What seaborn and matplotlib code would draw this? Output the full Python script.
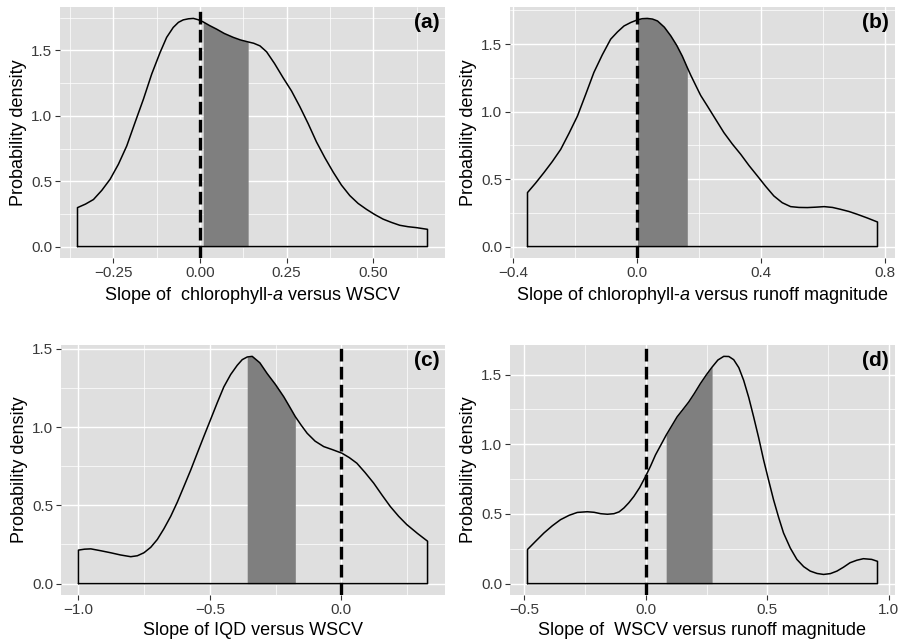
import numpy as np
import pandas as pd
import seaborn as sns
import matplotlib.pyplot as plt
from matplotlib.ticker import AutoMinorLocator

# density curves (x = slope, y = probability density)
a_x = [-0.353, -0.33, -0.307, -0.283, -0.259, -0.235, -0.211, -0.187, -0.163, -0.139, -0.115,
       -0.096, -0.077, -0.062, -0.048, -0.033, -0.019, -0.005, 0.0095, 0.028, 0.048, 0.07,
       0.096, 0.117, 0.139, 0.155, 0.173, 0.192, 0.215, 0.24, 0.264, 0.288, 0.312, 0.336,
       0.36, 0.384, 0.408, 0.432, 0.456, 0.48, 0.504, 0.528, 0.552, 0.576, 0.60, 0.624, 0.656]
a_y = [0.298, 0.325, 0.36, 0.43, 0.515, 0.63, 0.77, 0.95, 1.127, 1.32, 1.484,
       1.60, 1.676, 1.715, 1.734, 1.742, 1.745, 1.735, 1.718, 1.69, 1.663, 1.63,
       1.60, 1.58, 1.565, 1.555, 1.535, 1.49, 1.40, 1.29, 1.19, 1.07, 0.94, 0.80,
       0.68, 0.57, 0.47, 0.39, 0.33, 0.285, 0.245, 0.21, 0.185, 0.163, 0.152, 0.145, 0.132]
a_shade = (0.0095, 0.139)

b_x = [-0.353, -0.327, -0.30, -0.273, -0.246, -0.219, -0.192, -0.165, -0.139, -0.112, -0.085,
       -0.063, -0.042, -0.02, 0.001, 0.017, 0.033, 0.05, 0.066, 0.088, 0.109, 0.128, 0.146,
       0.162, 0.173, 0.19, 0.205, 0.227, 0.254, 0.28, 0.307, 0.334, 0.361, 0.388, 0.415,
       0.441, 0.468, 0.495, 0.522, 0.549, 0.576, 0.603, 0.63, 0.656, 0.683, 0.71, 0.742, 0.775]
b_y = [0.40, 0.47, 0.548, 0.63, 0.72, 0.84, 0.967, 1.13, 1.29, 1.42, 1.536,
       1.59, 1.634, 1.66, 1.679, 1.688, 1.69, 1.685, 1.671, 1.625, 1.56, 1.49, 1.41,
       1.326, 1.27, 1.19, 1.12, 1.04, 0.94, 0.844, 0.76, 0.684, 0.60, 0.523, 0.445,
       0.375, 0.325, 0.296, 0.29, 0.289, 0.292, 0.296, 0.29, 0.276, 0.26, 0.239, 0.212, 0.182]
b_shade = (0.001, 0.162)

c_x = [-1.0, -0.977, -0.953, -0.915, -0.877, -0.84, -0.801, -0.776, -0.751, -0.725, -0.70,
       -0.675, -0.649, -0.624, -0.599, -0.573, -0.548, -0.523, -0.498, -0.472, -0.447,
       -0.421, -0.396, -0.377, -0.358, -0.339, -0.31, -0.282, -0.25, -0.219, -0.197, -0.175,
       -0.152, -0.13, -0.1, -0.067, -0.033, 0.002, 0.03, 0.059, 0.09, 0.123, 0.155, 0.186,
       0.218, 0.249, 0.29, 0.328]
c_y = [0.214, 0.22, 0.222, 0.21, 0.197, 0.183, 0.172, 0.178, 0.197, 0.232, 0.282,
       0.35, 0.43, 0.52, 0.62, 0.725, 0.833, 0.94, 1.045, 1.155, 1.256,
       1.335, 1.394, 1.43, 1.447, 1.451, 1.41, 1.341, 1.27, 1.193, 1.13, 1.066,
       1.01, 0.96, 0.91, 0.875, 0.855, 0.833, 0.805, 0.769, 0.71, 0.642, 0.565, 0.493,
       0.43, 0.377, 0.32, 0.271]
c_shade = (-0.358, -0.175)

d_x = [-0.487, -0.453, -0.419, -0.385, -0.351, -0.316, -0.282, -0.241, -0.213, -0.186, -0.158,
       -0.131, -0.11, -0.09, -0.07, -0.049, -0.025, -0.001, 0.02, 0.04, 0.062, 0.084, 0.106,
       0.129, 0.153, 0.177, 0.2, 0.225, 0.25, 0.273, 0.297, 0.321, 0.342, 0.362, 0.383,
       0.403, 0.424, 0.444, 0.465, 0.485, 0.506, 0.526, 0.547, 0.567, 0.595, 0.622, 0.65,
       0.677, 0.705, 0.732, 0.76, 0.787, 0.814, 0.841, 0.869, 0.896, 0.93, 0.954]
d_y = [0.245, 0.305, 0.364, 0.415, 0.459, 0.49, 0.511, 0.516, 0.512, 0.502, 0.498,
       0.502, 0.515, 0.543, 0.58, 0.626, 0.69, 0.769, 0.845, 0.924, 0.995, 1.066, 1.13,
       1.197, 1.25, 1.304, 1.365, 1.436, 1.50, 1.554, 1.605, 1.631, 1.63, 1.607, 1.55,
       1.459, 1.335, 1.197, 1.045, 0.888, 0.74, 0.602, 0.475, 0.364, 0.255, 0.174, 0.122,
       0.09, 0.073, 0.066, 0.072, 0.09, 0.118, 0.15, 0.168, 0.179, 0.174, 0.16]
d_shade = (0.084, 0.273)

y_ticks = [0.0, 0.5, 1.0, 1.5]
y_labels = ['0.0', '0.5', '1.0', '1.5']
a_ticks, a_labels = [-0.25, 0.0, 0.25, 0.5], ['\u22120.25', '0.00', '0.25', '0.50']
b_ticks, b_labels = [-0.4, 0.0, 0.4, 0.8], ['\u22120.4', '0.0', '0.4', '0.8']
c_ticks, c_labels = [-1.0, -0.5, 0.0], ['\u22121.0', '\u22120.5', '0.0']
d_ticks, d_labels = [-0.5, 0.0, 0.5, 1.0], ['\u22120.5', '0.0', '0.5', '1.0']

sns.set_theme(style='darkgrid', rc={'axes.facecolor': '#DFDFDF', 'grid.color': 'white'})
plt.rcParams['font.family'] = ['Liberation Sans', 'DejaVu Sans']
plt.rcParams['mathtext.fontset'] = 'custom'
plt.rcParams['mathtext.rm'] = 'Liberation Sans'
plt.rcParams['mathtext.it'] = 'Liberation Sans:italic'

W, H = 898, 640
fig = plt.figure(figsize=(W / 100, H / 100), dpi=100)


def density_panel(rect, xs, ys, shade, xticks, xlabels, xlabel, tag):
    ax = fig.add_axes([rect[0] / W, 1 - rect[3] / H, (rect[1] - rect[0]) / W, (rect[3] - rect[2]) / H])
    df = pd.DataFrame({'x': xs, 'y': ys})
    inside = df[(df.x >= shade[0]) & (df.x <= shade[1])]
    ax.fill_between(inside.x, 0, inside.y, color='#7F7F7F', lw=0, zorder=2)
    # closed outline like geom_density
    outline = pd.concat([pd.DataFrame({'x': [xs[0]], 'y': [0.0]}), df,
                         pd.DataFrame({'x': [xs[-1], xs[0]], 'y': [0.0, 0.0]})], ignore_index=True)
    sns.lineplot(data=outline, x='x', y='y', sort=False, estimator=None, color='black',
                 lw=1.1, ax=ax, zorder=3)
    ax.axvline(0, color='black', lw=2.4, dashes=(3.8, 1.6), zorder=4)

    rng = xs[-1] - xs[0]
    ax.set_xlim(xs[0] - 0.05 * rng, xs[-1] + 0.05 * rng)
    ymax = max(ys)
    ax.set_ylim(-0.05 * ymax, 1.05 * ymax)
    ax.set_xticks(xticks, xlabels)
    ax.set_yticks(y_ticks, y_labels)
    ax.xaxis.set_minor_locator(AutoMinorLocator(2))
    ax.yaxis.set_minor_locator(AutoMinorLocator(2))
    ax.grid(which='major', color='white', lw=1.0)
    ax.grid(which='minor', color='white', lw=0.5)
    ax.tick_params(which='major', length=3.5, width=0.8, color='#333333', pad=2,
                   labelsize=11, labelcolor='#3A3A3A', bottom=True, left=True)
    ax.tick_params(which='minor', length=0)
    for s in ax.spines.values():
        s.set_visible(False)
    ax.set_xlabel(xlabel, fontsize=13, color='black', labelpad=4)
    ax.set_ylabel('Probability density', fontsize=13, color='black', labelpad=3)
    ax.text(0.985, 0.975, tag, transform=ax.transAxes, ha='right', va='top',
            fontsize=15, fontweight='bold', color='black')
    return ax


density_panel((60, 445, 7, 258), a_x, a_y, a_shade, a_ticks, a_labels,
              'Slope of  chlorophyll-$\\mathit{a}$ versus WSCV', '(a)')
density_panel((510, 895, 7, 258), b_x, b_y, b_shade, b_ticks, b_labels,
              'Slope of chlorophyll-$\\mathit{a}$ versus runoff magnitude', '(b)')
density_panel((61, 445, 345, 595), c_x, c_y, c_shade, c_ticks, c_labels,
              'Slope of IQD versus WSCV', '(c)')
density_panel((510, 895, 345, 595), d_x, d_y, d_shade, d_ticks, d_labels,
              'Slope of  WSCV versus runoff magnitude', '(d)')

fig.savefig('out.png', dpi=100)
